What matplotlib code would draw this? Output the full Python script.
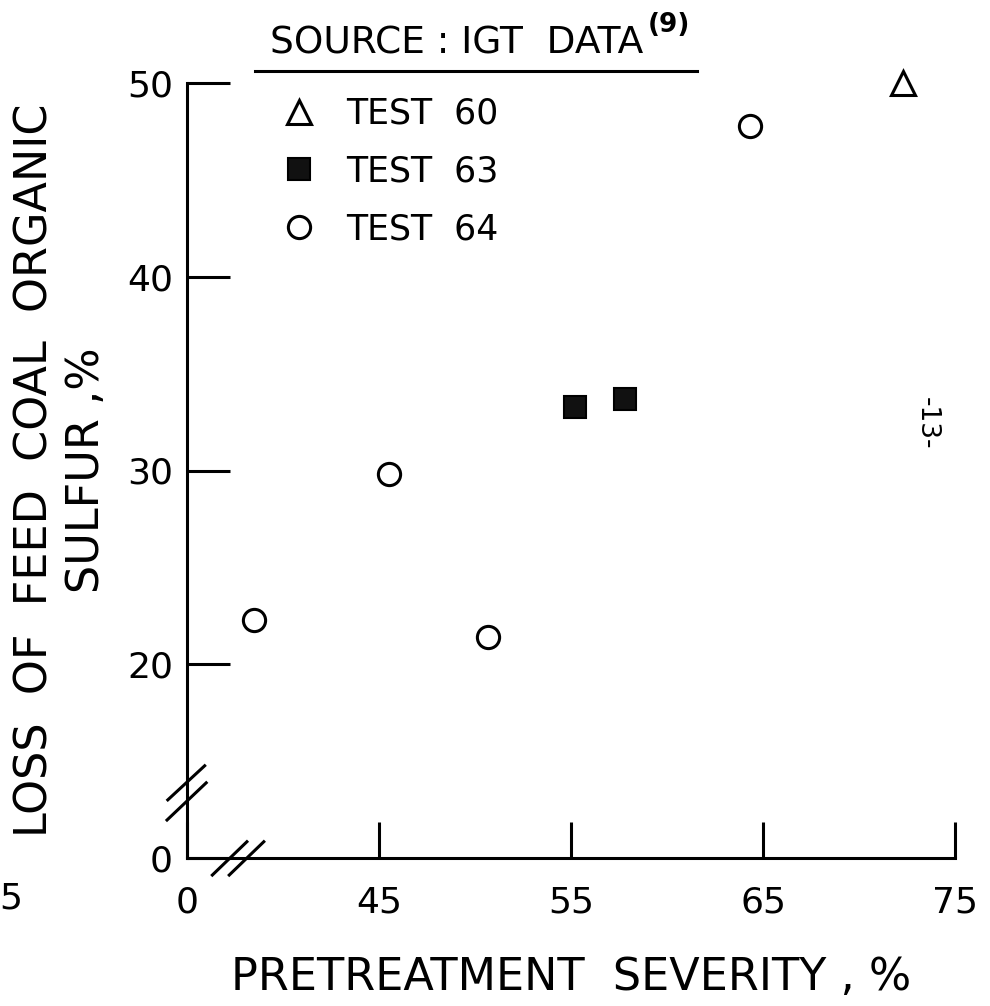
import matplotlib.pyplot as plt
from matplotlib.lines import Line2D
from matplotlib.transforms import blended_transform_factory

plt.rcParams['font.family'] = 'DejaVu Sans'

# pretreatment severity (%) vs loss of feed coal organic sulfur (%)
test60_x = [72.3]
test60_y = [50.0]
test63_x = [55.2, 57.8]
test63_y = [33.3, 33.7]
test64_x = [38.5, 45.5, 50.7, 64.3]
test64_y = [22.3, 29.8, 21.4, 47.8]

# both axes are broken: the first tick stands for 0
x_ticks = [35, 45, 55, 65, 75]
x_ticklabels = ['0', '45', '55', '65', '75']
y_ticks = [10, 20, 30, 40, 50]
y_ticklabels = ['0', '20', '30', '40', '50']

W, H = 990, 1006
fig = plt.figure(figsize=(W / 100, H / 100), dpi=100)
ax = fig.add_axes([187 / W, 148 / H, 768 / W, 775 / H])

lw = 2.2
ax.plot(test60_x, test60_y, linestyle='none', marker='^', markersize=17,
        markerfacecolor='white', markeredgecolor='black', markeredgewidth=lw,
        label='TEST  60', clip_on=False)
ax.plot(test63_x, test63_y, linestyle='none', marker='s', markersize=16,
        markerfacecolor='#111111', markeredgecolor='black', markeredgewidth=1.5,
        label='TEST  63', clip_on=False)
ax.plot(test64_x, test64_y, linestyle='none', marker='o', markersize=16,
        markerfacecolor='white', markeredgecolor='black', markeredgewidth=lw,
        label='TEST  64', clip_on=False)

ax.set_xlim(35, 75)
ax.set_ylim(10, 50)
ax.set_xticks(x_ticks)
ax.set_xticklabels(x_ticklabels)
ax.set_yticks(y_ticks)
ax.set_yticklabels(y_ticklabels)

for side in ['top', 'right']:
    ax.spines[side].set_visible(False)
for side in ['left', 'bottom']:
    ax.spines[side].set_linewidth(lw)

ax.tick_params(axis='y', direction='in', length=31, width=lw, pad=10,
               labelsize=26)
ax.tick_params(axis='x', direction='in', length=26, width=lw, pad=20,
               labelsize=26)

# partly cut off label of the neighbouring scale
trans = blended_transform_factory(ax.transData, ax.transAxes)
ax.text(25.3, -0.052, '25', transform=trans, ha='center', va='center',
        fontsize=26, clip_on=False)

# break marks on both axes
breaks = [((-0.025, 0.023), (0.075, 0.119)),
          ((-0.026, 0.025), (0.049, 0.097)),
          ((0.033, 0.078), (-0.022, 0.021)),
          ((0.055, 0.100), (-0.022, 0.021))]
for bx, by in breaks:
    ax.plot(bx, by, color='black', linewidth=lw, transform=ax.transAxes,
            clip_on=False)

ax.set_xlabel('PRETREATMENT  SEVERITY , %', fontsize=32, labelpad=26)
ax.set_ylabel('LOSS  OF  FEED  COAL  ORGANIC\nSULFUR ,%', fontsize=32,
              labelpad=14, linespacing=1.25)

leg = ax.legend(loc='upper left', bbox_to_anchor=(282 / W, 1 - 97 / H),
                bbox_transform=fig.transFigure, frameon=False, numpoints=1,
                fontsize=25, handlelength=1.0, handletextpad=0.85,
                labelspacing=0.68, borderpad=0, borderaxespad=0)

title = fig.text(270 / W, 1 - 53 / H, 'SOURCE : IGT  DATA', fontsize=27,
                 ha='left', va='baseline')
ax.annotate('(9)', xy=(1, 1), xycoords=title, xytext=(3, 9),
            textcoords='offset points', fontsize=19, fontweight='bold',
            ha='left', va='top', annotation_clip=False)
fig.add_artist(Line2D([255 / W, 697 / W], [1 - 71 / H, 1 - 71 / H],
                      color='black', linewidth=lw, transform=fig.transFigure))

fig.text(927 / W, 1 - 423 / H, '-13-', rotation=270, fontsize=19,
         ha='center', va='center')

fig.savefig('out.png', dpi=100)
